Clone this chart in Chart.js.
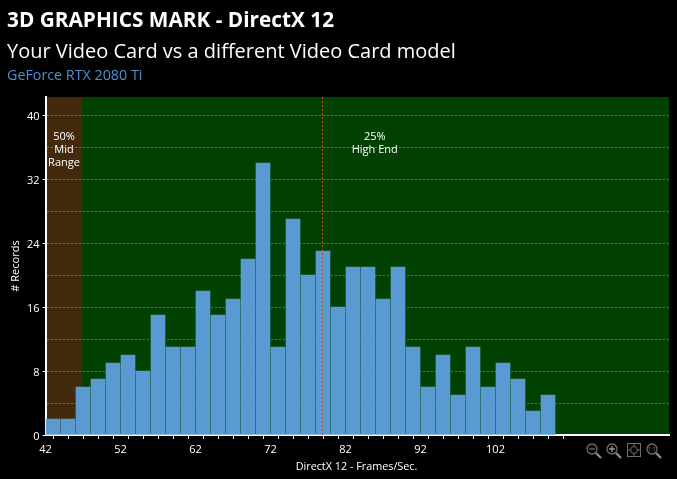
<!DOCTYPE html>
<html><head><meta charset="utf-8">
<script src="https://cdn.jsdelivr.net/npm/chart.js@4/dist/chart.umd.min.js"></script>
<style>
html,body{margin:0;padding:0;background:#000;width:677px;height:479px;overflow:hidden}
canvas{position:absolute;left:0;top:0}
.t{position:absolute;left:7px;white-space:nowrap;font-family:"Open Sans",sans-serif}
#t1{top:5px;font-size:20.8px;font-weight:700;color:#fff;line-height:28px}
#t2{top:37px;font-size:20px;color:#fff;line-height:28px}
#t3{top:65px;font-size:14.3px;color:#4f8fd0;line-height:20px}
</style></head><body>
<canvas id="c" width="677" height="479"></canvas>
<div class="t" id="t1">3D GRAPHICS MARK - DirectX 12</div>
<div class="t" id="t2">Your Video Card vs a different Video Card model</div>
<div class="t" id="t3">GeForce RTX 2080 Ti</div>
<script>
const binCenters=[43,45,47,49,51,53,55,57,59,61,63,65,67,69,71,73,75,77,79,81,83,85,87,89,91,93,95,97,99,101,103,105,107,109];
const records=[2,2,6,7,9,10,8,15,11,11,18,15,17,22,34,11,27,20,23,16,21,21,17,21,11,6,10,5,11,6,9,7,3,5];
const xMin=42,xMax=125.1333,xLastTick=110,yMax=42.25;
const midRangeEnd=46.87,highEndLine=78.9;
const midRangeLabel=["50%","Mid","Range"],midLabelX=44.4;
const highEndLabel=["25%","High End"],highLabelX=85.9;
const font='"Open Sans",sans-serif';

const bands={id:'bands',beforeDraw(ch){
  const {ctx,chartArea:a,scales:{x}}=ch,m=x.getPixelForValue(midRangeEnd);
  ctx.save();
  ctx.fillStyle='#004000';ctx.fillRect(a.left,a.top,a.right-a.left,a.bottom-a.top);
  ctx.fillStyle='#432a0e';ctx.fillRect(a.left,a.top,m-a.left,a.bottom-a.top);
  ctx.restore();
}};
const overlay={id:'overlay',afterDatasetsDraw(ch){
  const {ctx,chartArea:a,scales:{x}}=ch,h=Math.round(x.getPixelForValue(highEndLine))+.5;
  ctx.save();
  ctx.strokeStyle='#c2501e';ctx.lineWidth=1;ctx.setLineDash([2,2]);
  ctx.beginPath();ctx.moveTo(h,a.top);ctx.lineTo(h,a.bottom);ctx.stroke();
  ctx.setLineDash([]);
  ctx.fillStyle='#fff';ctx.font='11px '+font;ctx.textAlign='center';ctx.textBaseline='middle';
  midRangeLabel.forEach((s,i)=>ctx.fillText(s,x.getPixelForValue(midLabelX)+.5,137+i*13));
  highEndLabel.forEach((s,i)=>ctx.fillText(s,x.getPixelForValue(highLabelX),137+i*13));
  ctx.font='10.8px '+font;
  ctx.fillText('DirectX 12 - Frames/Sec.',356.5,467);
  // toolbar icons
  const icon=(cx,cy,draw)=>{
    ctx.strokeStyle='#6f6f6f';ctx.lineWidth=1.3;
    ctx.beginPath();ctx.arc(cx,cy,5,0,Math.PI*2);ctx.stroke();
    ctx.strokeStyle='#8a8a8a';ctx.lineWidth=2.4;
    ctx.beginPath();ctx.moveTo(cx+4,cy+4);ctx.lineTo(cx+9,cy+9);ctx.stroke();
    ctx.strokeStyle='#6f6f6f';ctx.lineWidth=1.3;draw&&draw(cx,cy);
  };
  icon(592,449,(c,d)=>{ctx.beginPath();ctx.moveTo(c-3,d);ctx.lineTo(c+3,d);ctx.stroke();});
  icon(612,449,(c,d)=>{ctx.strokeStyle='#999';ctx.beginPath();ctx.moveTo(c-3,d);ctx.lineTo(c+3,d);ctx.moveTo(c,d-3);ctx.lineTo(c,d+3);ctx.stroke();});
  ctx.strokeStyle='#6f6f6f';ctx.lineWidth=1;
  ctx.strokeRect(627.5,443.5,13,13);
  ctx.beginPath();ctx.arc(634,450,3.5,0,Math.PI*2);ctx.stroke();
  ctx.beginPath();ctx.moveTo(634,444);ctx.lineTo(634,447);ctx.moveTo(634,453);ctx.lineTo(634,456);ctx.moveTo(628,450);ctx.lineTo(631,450);ctx.moveTo(637,450);ctx.lineTo(640,450);ctx.stroke();
  icon(652,449,(c,d)=>{ctx.fillStyle='#777';ctx.font='6px '+font;ctx.textAlign='center';ctx.fillText('1:1',c,d);});
  ctx.restore();
}};

new Chart(document.getElementById('c'),{
  type:'bar',
  data:{datasets:[{
    data:binCenters.map((x,i)=>({x,y:records[i]})),
    backgroundColor:'rgba(91,157,216,0.97)',borderWidth:0,
    barThickness:14,grouped:false
  }]},
  options:{
    responsive:false,animation:false,devicePixelRatio:1,
    layout:{padding:{left:0,top:97,right:8,bottom:0}},
    plugins:{legend:{display:false},tooltip:{enabled:false}},
    scales:{
      x:{type:'linear',min:xMin,max:xMax,offset:false,
        afterBuildTicks(s){s.ticks=s.ticks.filter(t=>t.value<=xLastTick);},
        afterFit(s){s.height=44;},
        ticks:{stepSize:2,includeBounds:false,autoSkip:false,maxRotation:0,color:'#fff',font:{family:font,size:11},padding:4,
          callback:v=>(v-xMin)%10===0?String(v):''},
        grid:{drawOnChartArea:false,drawTicks:true,tickLength:4,tickColor:'#fff',tickWidth:1},
        border:{color:'#fff',width:2}
      },
      y:{type:'linear',min:0,max:yMax,
        afterFit(s){s.width=45.5;},
        ticks:{stepSize:4,includeBounds:false,autoSkip:false,color:'#fff',font:{family:font,size:11,lineHeight:0.3},padding:3,
          callback:v=>v%8===0?['',String(v)]:''},
        grid:{color:c=>c.tick.value===0?'transparent':'rgba(205,195,160,0.45)',lineWidth:1,tickLength:3,
          tickColor:c=>c.tick.value%8===0?'#fff':'transparent',tickBorderDash:[],tickWidth:1},
        border:{color:'#fff',width:2,dash:[2,2]},
        title:{display:true,text:'# Records',color:'#fff',font:{family:font,size:11},padding:{top:9,bottom:0}}
      }
    }
  },
  plugins:[bands,overlay]
});
</script>
</body></html>
